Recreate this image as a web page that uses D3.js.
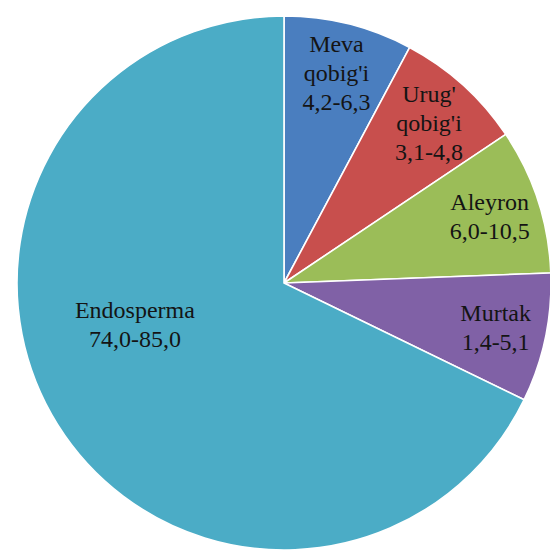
<!DOCTYPE html>
<html>
<head>
<meta charset="utf-8">
<script src="https://cdn.jsdelivr.net/npm/d3@7/dist/d3.min.js"></script>
</head>
<body>
<script>
// Data (shares) and label texts
const categories = ["Meva qobig'i", "Urug' qobig'i", "Aleyron", "Murtak", "Endosperma"];
const shares = [7.8, 7.8, 8.8, 7.8, 67.8];
const rangeLabels = ["4,2-6,3", "3,1-4,8", "6,0-10,5", "1,4-5,1", "74,0-85,0"];
const labelLines = [["Meva", "qobig'i"], ["Urug'", "qobig'i"], ["Aleyron"], ["Murtak"], ["Endosperma"]];
const colors = ["#4A7EBF", "#C84F4D", "#9BBD58", "#8061A6", "#4BACC6"];

const W = 550, H = 554;
const cx = 284, cy = 283, R = 267;

d3.select("body").style("margin", "0px").style("background", "#ffffff");

const svg = d3.select("body").append("svg")
  .attr("width", W).attr("height", H)
  .style("display", "block")
  .style("font-family", "\"Liberation Serif\", \"Tinos\", serif");

const g = svg.append("g").attr("transform", `translate(${cx},${cy})`);

const data = categories.map((c, i) => ({ name: c, value: shares[i], i }));

const pie = d3.pie().value(d => d.value).sort(null).startAngle(0).endAngle(2 * Math.PI);
const arcs = pie(data);

const arc = d3.arc().innerRadius(0).outerRadius(R);

g.selectAll("path.slice")
  .data(arcs)
  .enter().append("path")
  .attr("class", "slice")
  .attr("d", arc)
  .attr("fill", d => colors[d.data.i])
  .attr("stroke", "#ffffff")
  .attr("stroke-width", 1.6)
  .attr("stroke-linejoin", "round");

// label placement (style config)
const labelRadiusFrac = [0.81, 0.81, 0.81, 0.81, 0.58];
const labelAngleDeg = [null, null, null, null, 254.3];
const fontSize = 24, lineH = 29;

arcs.forEach(a => {
  const i = a.data.i;
  const ang = labelAngleDeg[i] !== null ? labelAngleDeg[i] * Math.PI / 180 : (a.startAngle + a.endAngle) / 2;
  const r = labelRadiusFrac[i] * R;
  const x = cx + Math.sin(ang) * r;
  const y = cy - Math.cos(ang) * r;
  const lines = labelLines[i].concat([rangeLabels[i]]);
  const n = lines.length;
  lines.forEach((ln, k) => {
    svg.append("text")
      .attr("x", x)
      .attr("y", y - (n - 1) / 2 * lineH + 8 + k * lineH)
      .attr("text-anchor", "middle")
      .style("font-family", "\"Liberation Serif\", \"Tinos\", serif")
      .style("font-size", fontSize + "px")
      .style("fill", "#141414")
      .text(ln);
  });
});
</script>
</body>
</html>
